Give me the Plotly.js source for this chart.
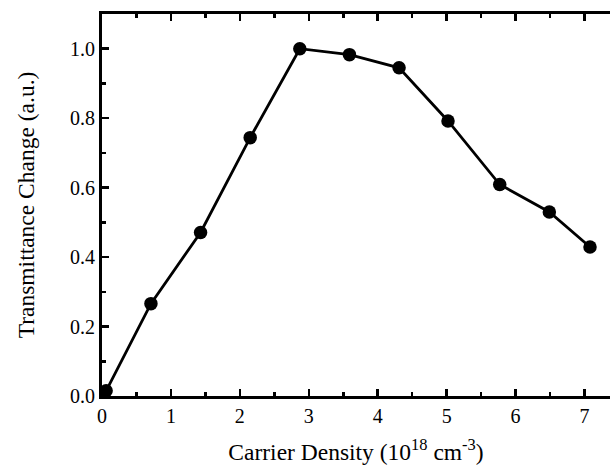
<!DOCTYPE html>
<html>
<head>
<meta charset="utf-8">
<script src="https://cdn.plot.ly/plotly-3.0.1.min.js"></script>
<style>html,body{margin:0;padding:0;background:#fff;}#chart{width:610px;height:465px;}</style>
</head>
<body>
<div id="chart"></div>
<script>
const carrierDensity = [0.06, 0.71, 1.43, 2.15, 2.87, 3.59, 4.31, 5.02, 5.77, 6.49, 7.08];
const transmittanceChange = [0.015, 0.266, 0.471, 0.744, 1.0, 0.983, 0.945, 0.792, 0.609, 0.530, 0.429];
const xTitle = 'Carrier Density (10<sup>18</sup> cm<sup>-3</sup>)';
const yTitle = 'Transmittance Change (a.u.)';

const font = 'Liberation Serif';

const trace = {
  x: carrierDensity,
  y: transmittanceChange,
  type: 'scatter',
  mode: 'lines+markers',
  line: {color: '#000', width: 2.8},
  marker: {color: '#000', size: 13.5},
  cliponaxis: false,
  showlegend: false
};

const layout = {
  width: 610,
  height: 465,
  margin: {l: 102, r: 0, t: 14, b: 69},
  paper_bgcolor: '#fff',
  plot_bgcolor: '#fff',
  font: {family: font, color: '#000', size: 20},
  xaxis: {
    range: [0, 7.37],
    dtick: 1,
    tick0: 0,
    ticks: 'inside',
    ticklen: 7,
    tickwidth: 2.5,
    tickcolor: '#000',
    showline: true,
    linewidth: 3,
    linecolor: '#000',
    mirror: 'ticks',
    showgrid: false,
    zeroline: false,
    minor: {dtick: 0.5, ticks: 'inside', ticklen: 4, tickwidth: 2.5, tickcolor: '#000', showgrid: false},
    tickfont: {family: font, size: 20, color: '#000'},
    title: {text: xTitle, font: {family: font, size: 23.5, color: '#000'}, standoff: 28}
  },
  yaxis: {
    range: [0, 1.1],
    dtick: 0.2,
    tick0: 0,
    tickformat: '.1f',
    ticks: 'inside',
    ticklen: 7,
    tickwidth: 2.5,
    tickcolor: '#000',
    showline: true,
    linewidth: 3,
    linecolor: '#000',
    mirror: false,
    showgrid: false,
    zeroline: false,
    minor: {dtick: 0.1, ticks: 'inside', ticklen: 4, tickwidth: 2.5, tickcolor: '#000', showgrid: false},
    tickfont: {family: font, size: 20, color: '#000'},
    title: {text: yTitle, font: {family: font, size: 23.5, color: '#000'}, standoff: 29}
  }
};

Plotly.newPlot('chart', [trace], layout, {displayModeBar: false, staticPlot: true});
</script>
</body>
</html>
